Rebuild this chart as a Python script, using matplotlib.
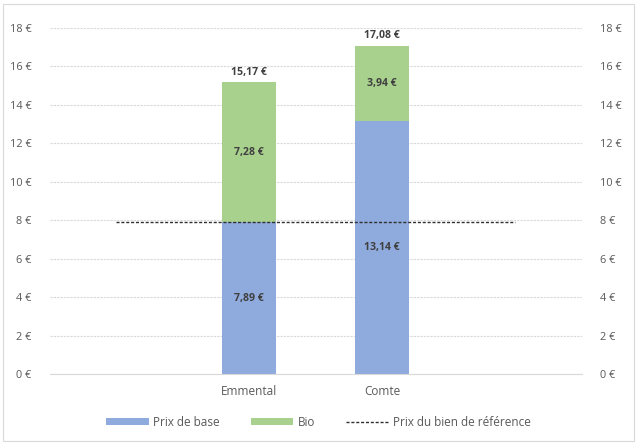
import matplotlib
matplotlib.use("Agg")
import matplotlib.pyplot as plt
from matplotlib.lines import Line2D
from matplotlib.patches import Patch, Rectangle

categories = ["", "Emmental", "Comte", ""]
prix_base = [0, 7.89, 13.14, 0]
bio = [0, 7.28, 3.94, 0]
prix_reference = [7.89, 7.89, 7.89, 7.89]
yticks = [0, 2, 4, 6, 8, 10, 12, 14, 16, 18]

def eur(v):
    return f"{v:.2f}".replace(".", ",") + " €"

plt.rcParams['font.family'] = ['Open Sans', 'DejaVu Sans']

fig = plt.figure(figsize=(6.37, 4.44), dpi=100)
ax = fig.add_axes([49.5/637, 70/444, 532/637, 346/444])

blue = "#8FAADC"
green = "#A9D18E"
txt = "#404040"
tick_c = "#595959"

x = list(range(len(categories)))
w = 54/133
ax.bar(x[1:3], prix_base[1:3], width=w, color=blue, zorder=2)
ax.bar(x[1:3], bio[1:3], width=w, bottom=prix_base[1:3], color=green, zorder=2)
ax.plot([x[0], x[-1]], [prix_reference[0], prix_reference[-1]], color="#303030",
        linestyle=(0, (2.2, 1.3)), linewidth=1.0, zorder=3)

for i in (1, 2):
    b, g = prix_base[i], bio[i]
    ax.text(i, b/2, eur(b), ha="center", va="center", fontsize=7.6, color=txt, fontweight="bold", zorder=4)
    ax.text(i, b + g/2, eur(g), ha="center", va="center", fontsize=7.6, color=txt, fontweight="bold", zorder=4)
    ax.text(i, b + g + 0.25, eur(b + g), ha="center", va="bottom", fontsize=7.6, color=txt, fontweight="bold", zorder=4)

ax.set_xlim(-0.5, 3.5)
ax.set_ylim(0, 18)
ax.set_yticks(yticks)
ax.set_yticklabels([f"{t} €" for t in yticks])
ax.set_xticks([1, 2])
ax.set_xticklabels(categories[1:3])
ax.tick_params(axis="y", length=0, pad=13, labelsize=7.8, colors=tick_c, labelright=True, right=False)
ax.tick_params(axis="x", length=0, pad=8, labelsize=8.5, colors=tick_c)
ax.grid(axis="y", color="#D9D9D9", linestyle=(0, (2, 1)), linewidth=0.8, zorder=0)
for s in ["top", "left", "right"]:
    ax.spines[s].set_visible(False)
ax.spines["bottom"].set_color("#D9D9D9")
ax.spines["bottom"].set_linewidth(0.8)

handles = [Patch(facecolor=blue, edgecolor="none"),
           Patch(facecolor=green, edgecolor="none"),
           Line2D([0], [0], color="#303030", linestyle=(0, (2.2, 1.3)), linewidth=1.0)]
labels = ["Prix de base", "Bio", "Prix du bien de référence"]
leg = fig.legend(handles, labels, loc="center", bbox_to_anchor=(0.5, 1 - 422/444), ncol=3,
                 frameon=False, fontsize=8.5, handlelength=3.6, handleheight=0.5,
                 columnspacing=2.6, handletextpad=0.4)
for t in leg.get_texts():
    t.set_color(tick_c)

fig.patches.append(Rectangle((3/637, 3/444), 631/637, 437/444, transform=fig.transFigure,
                             fill=False, edgecolor="#D9D9D9", linewidth=0.8))

fig.savefig("out.png", dpi=100, facecolor="white")
